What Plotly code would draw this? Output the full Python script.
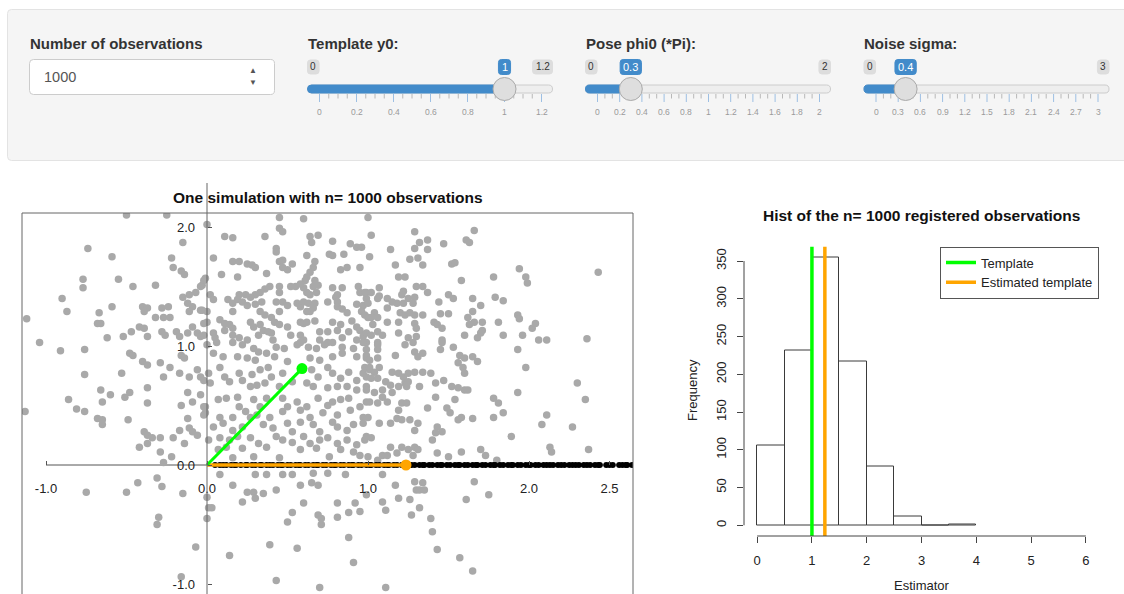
import plotly.graph_objects as go

W, H = 1124, 594
FONT = "Liberation Sans, Arial, Helvetica, sans-serif"

# ---------------------------------------------------------------- data
n_obs = 1000
input_label = "Number of observations"
slider_labels = ["Template y0:", "Pose phi0 (*Pi):", "Noise sigma:"]
slider_min = [0, 0, 0]
slider_max = [1.2, 2, 3]
slider_value = [1, 0.3, 0.4]
slider_value_text = ["1", "0.3", "0.4"]
slider_min_text = ["0", "0", "0"]
slider_max_text = ["1.2", "2", "3"]
slider_grid_1 = ["0", "0.2", "0.4", "0.6", "0.8", "1", "1.2"]
slider_grid_2 = ["0", "0.2", "0.4", "0.6", "0.8", "1", "1.2", "1.4", "1.6", "1.8", "2"]
slider_grid_3 = ["0", "0.3", "0.6", "0.9", "1.2", "1.5", "1.8", "2.1", "2.4", "2.7", "3"]
slider_small_ticks = [3, 2, 2]

template_end_x = 0.59
template_end_y = 0.81
template_y0 = 1.0
estimated_template = 1.236

scatter_xticks = [-1, 0, 1, 2, 2.5]
scatter_xtick_text = ["-1.0", "0.0", "1.0", "2.0", "2.5"]
scatter_yticks = [-1, 0, 1, 2]
scatter_ytick_text = ["-1.0", "0.0", "1.0", "2.0"]

hist_edges = [0, 0.5, 1, 1.5, 2, 2.5, 3, 3.5, 4]
hist_counts = [105, 232, 355, 217, 78, 12, 0, 1]
hist_xticks = [0, 1, 2, 3, 4, 5, 6]
hist_yticks = [0, 50, 100, 150, 200, 250, 300, 350]

registered_x = [0.05, 0.08, 0.10, 0.12, 0.15, 0.17, 0.18, 0.21, 0.24, 0.25, 0.28, 0.30, 0.33, 0.34,
                0.37, 0.39, 0.41, 0.44, 0.46, 0.47, 0.50, 0.52, 0.55, 0.57, 0.58, 0.61, 0.63, 0.66,
                0.68, 0.69, 0.72, 0.74, 0.77, 0.79, 0.80, 0.83, 0.85, 0.88, 0.90, 0.91, 0.94, 0.96,
                0.99, 1.01, 1.02, 1.05, 1.07, 1.10, 1.12, 1.13, 1.16, 1.18, 1.21, 1.23, 1.24, 1.27,
                1.29, 1.32, 1.34, 1.35, 1.38, 1.40, 1.43, 1.45, 1.46, 1.49, 1.51, 1.54, 1.56, 1.57,
                1.60, 1.62, 1.65, 1.67, 1.68, 1.71, 1.73, 1.76, 1.78, 1.79, 1.82, 1.84, 1.87, 1.89,
                1.90, 1.93, 1.95, 1.98, 2.00, 2.01, 2.04, 2.06, 2.09, 2.11, 2.13, 2.15, 2.18, 2.20,
                2.22, 2.25, 2.27, 2.29, 2.31, 2.34, 2.36, 2.38, 2.41, 2.43, 2.44, 2.48, 2.50, 2.52,
                2.56, 2.58, 2.60, 2.61, 2.64]

obs_upper_left = [(0.00,2.02),(0.11,1.92),(0.16,1.91),(0.36,1.92),(0.45,2.08),(0.45,1.99),(0.47,1.96),(0.60,2.07),(0.64,1.92),(0.69,1.93),(0.65,1.87),(0.78,1.88),(0.89,1.86),(0.93,1.83),(0.96,1.83),(0.43,1.82),(0.43,1.79),(0.04,1.74),(0.62,1.76),(0.76,1.77),(0.78,1.76),(0.85,1.77),(0.16,1.71),(0.20,1.71),(0.25,1.69),(0.28,1.68),(0.30,1.66),(0.45,1.71),(0.47,1.72),(0.53,1.69),(0.47,1.66),(0.50,1.64),(0.67,1.71),(0.66,1.66),(0.64,1.62),(0.83,1.64),(0.87,1.66),(0.95,1.66),(0.09,1.60),(0.19,1.58),(0.37,1.61),(0.62,1.58),(0.61,1.55),(-0.01,1.57),(-0.03,1.51),(0.67,1.55),(0.69,1.51),(0.66,1.50),(0.68,1.45),(0.64,1.43),(0.62,1.45),(0.60,1.49),(0.52,1.50),(0.55,1.50),(0.58,1.52),(0.45,1.50),(0.39,1.50),(0.36,1.48),(0.33,1.45),(0.30,1.43),(0.27,1.41),(0.24,1.43),(0.20,1.43),(0.45,1.45),(0.78,1.49),(0.84,1.49),(0.94,1.50),(0.95,1.45),(0.99,1.45),(0.99,1.40),(0.80,1.41),(0.81,1.43),(0.81,1.37),(0.02,1.43),(0.04,1.39),(0.13,1.39),(0.16,1.36),(0.19,1.39),(0.22,1.37),(0.25,1.34),(0.30,1.35),(0.34,1.37),(0.43,1.37),(0.47,1.37),(0.50,1.34),(0.45,1.29),(0.56,1.36),(0.58,1.33),(0.60,1.37),(0.63,1.36),(0.67,1.36),(0.66,1.32),(0.64,1.29),(0.62,1.29),(0.75,1.37),(0.81,1.33),(0.84,1.31),(0.87,1.28),(0.93,1.35),(0.97,1.34),(0.96,1.29),(0.98,1.26),(1.00,1.24),(-0.03,1.30),(0.00,1.29),(0.00,1.20),(0.16,1.29),(0.33,1.29),(0.36,1.26),(0.40,1.24),(0.42,1.20),(0.45,1.18),(0.50,1.16),(0.52,1.09),(0.58,1.20),(0.60,1.19),(0.62,1.20),(0.67,1.21),(0.08,1.22),(0.11,1.19),(0.14,1.18),(0.16,1.15),(0.11,1.13),(0.16,1.09),(0.27,1.20),(0.29,1.16),(0.33,1.18),(0.35,1.13),(0.32,1.09),(0.38,1.12),(0.78,1.20),(0.83,1.18),(0.81,1.13),(0.75,1.12),(0.70,1.12),(0.90,1.21),(0.93,1.16),(0.88,1.12),(0.95,1.13),(0.04,1.11),(0.05,1.07),(0.06,1.03),(0.20,1.07),(0.25,1.05),(0.40,1.11),(0.41,1.05),(0.58,1.09),(0.60,1.05),(0.70,1.05),(0.75,1.03),(0.84,1.07),(0.93,1.05),(0.97,1.08),(0.99,1.03)]

obs_upper_right = [(1.00,2.08),(1.02,1.93),(1.29,1.96),(1.66,1.97),(1.32,1.87),(1.37,1.89),(1.37,1.81),(1.29,1.82),(1.47,1.86),(1.61,1.89),(1.63,1.87),(1.14,1.81),(1.01,1.75),(1.26,1.73),(1.31,1.74),(1.34,1.68),(1.17,1.68),(1.52,1.69),(1.54,1.70),(1.94,1.65),(1.98,1.58),(1.99,1.53),(1.19,1.58),(1.23,1.58),(1.58,1.55),(1.78,1.58),(0.98,1.45),(1.02,1.45),(1.07,1.49),(1.07,1.42),(1.06,1.40),(1.22,1.46),(1.21,1.43),(1.25,1.40),(1.30,1.50),(1.34,1.50),(1.37,1.45),(1.29,1.41),(1.28,1.36),(1.50,1.43),(1.53,1.40),(1.65,1.40),(1.70,1.34),(1.79,1.41),(1.84,1.38),(1.44,1.37),(1.12,1.40),(1.18,1.36),(1.15,1.37),(1.22,1.36),(1.00,1.36),(1.04,1.28),(1.06,1.24),(1.02,1.24),(1.03,1.18),(1.12,1.32),(1.12,1.20),(1.20,1.28),(1.23,1.26),(1.26,1.28),(1.29,1.26),(1.34,1.26),(1.29,1.19),(1.30,1.15),(1.19,1.20),(1.45,1.27),(1.50,1.27),(1.62,1.24),(1.65,1.29),(1.66,1.20),(1.63,1.18),(1.71,1.20),(1.71,1.13),(1.41,1.20),(1.43,1.18),(1.46,1.15),(1.81,1.20),(1.93,1.26),(1.94,1.23),(2.02,1.15),(2.04,1.19),(0.99,1.11),(1.02,1.09),(1.06,1.12),(1.09,1.09),(1.19,1.11),(1.25,1.07),(1.30,1.08),(1.60,1.09),(1.68,1.07),(1.70,1.11),(1.84,1.09),(1.96,1.09),(1.46,1.05),(1.06,1.03)]

obs_lower_left = [(0.00,1.01),(0.16,1.03),(0.22,1.01),(0.29,0.98),(0.32,0.95),(0.37,0.94),(0.43,0.99),(0.48,0.98),(0.56,1.01),(0.58,1.03),(0.63,0.99),(0.68,0.98),(0.73,1.01),(0.78,1.03),(0.84,0.99),(0.91,0.98),(0.97,1.03),(0.99,0.97),(0.04,0.94),(0.10,0.91),(0.19,0.91),(0.25,0.90),(0.30,0.88),(0.42,0.91),(0.50,0.87),(0.64,0.90),(0.70,0.88),(0.78,0.91),(0.84,0.94),(0.93,0.91),(0.99,0.90),(0.01,0.77),(0.08,0.82),(0.11,0.74),(0.20,0.77),(0.22,0.71),(0.28,0.76),(0.33,0.80),(0.38,0.82),(0.40,0.74),(0.47,0.77),(0.53,0.70),(0.65,0.80),(0.69,0.74),(0.75,0.82),(0.78,0.77),(0.83,0.73),(0.88,0.78),(0.93,0.71),(0.97,0.77),(1.01,0.80),(0.02,0.69),(0.14,0.70),(0.27,0.66),(0.31,0.67),(0.36,0.69),(0.45,0.66),(0.62,0.69),(0.66,0.66),(0.75,0.65),(0.81,0.66),(0.87,0.66),(0.93,0.63),(0.99,0.66),(0.07,0.55),(0.12,0.56),(0.19,0.57),(0.20,0.49),(0.24,0.45),(0.29,0.55),(0.33,0.49),(0.37,0.56),(0.47,0.56),(0.50,0.49),(0.56,0.53),(0.58,0.46),(0.62,0.49),(0.69,0.56),(0.75,0.50),(0.78,0.53),(0.83,0.55),(0.88,0.56),(0.95,0.49),(0.99,0.53),(-0.01,0.49),(-0.01,0.44),(0.08,0.40),(0.16,0.40),(0.27,0.40),(0.31,0.42),(0.39,0.40),(0.47,0.45),(0.64,0.40),(0.72,0.44),(0.81,0.42),(0.89,0.46),(0.97,0.40),(0.04,0.32),(0.10,0.35),(0.16,0.29),(0.22,0.32),(0.35,0.34),(0.41,0.31),(0.50,0.35),(0.53,0.28),(0.58,0.36),(0.66,0.34),(0.70,0.28),(0.78,0.36),(0.81,0.32),(0.87,0.29),(0.91,0.34),(0.97,0.35),(0.01,0.21),(0.08,0.23),(0.14,0.21),(0.19,0.24),(0.27,0.23),(0.32,0.18),(0.43,0.24),(0.47,0.21),(0.53,0.19),(0.60,0.24),(0.64,0.18),(0.70,0.21),(0.75,0.23),(0.81,0.18),(0.87,0.21),(0.93,0.17),(0.98,0.21),(0.07,0.13),(0.12,0.15),(0.22,0.14),(0.37,0.15),(0.58,0.13),(0.68,0.14),(0.83,0.13),(0.91,0.11),(0.16,0.06),(0.29,0.07),(0.45,0.06),(0.76,0.07),(0.95,0.08)]

obs_lower_right = [(1.06,1.01),(1.06,0.97),(0.99,0.92),(1.01,0.88),(1.06,0.90),(1.17,0.92),(1.23,1.01),(1.28,1.03),(1.29,0.95),(1.31,0.91),(1.34,0.94),(1.46,1.03),(1.53,0.99),(1.45,0.97),(1.57,0.92),(1.60,0.90),(1.65,0.91),(1.68,0.87),(1.56,0.86),(1.59,0.82),(1.60,0.77),(1.93,0.97),(1.98,0.82),(0.98,0.82),(1.01,0.82),(1.04,0.78),(1.07,0.82),(1.15,0.78),(1.19,0.77),(1.22,0.74),(1.25,0.77),(1.29,0.78),(1.34,0.78),(1.39,0.77),(0.99,0.74),(1.02,0.73),(1.06,0.73),(1.11,0.70),(1.14,0.67),(1.19,0.66),(1.23,0.69),(1.25,0.70),(1.24,0.66),(1.32,0.66),(1.42,0.69),(1.47,0.71),(1.52,0.66),(1.56,0.65),(1.60,0.63),(1.62,0.63),(1.93,0.61),(0.99,0.63),(1.04,0.61),(1.09,0.63),(1.15,0.61),(1.09,0.57),(1.01,0.53),(1.06,0.52),(1.12,0.53),(1.21,0.52),(1.24,0.52),(1.19,0.46),(1.37,0.48),(1.42,0.57),(1.49,0.48),(1.51,0.44),(1.54,0.55),(1.58,0.40),(1.56,0.38),(1.65,0.39),(1.78,0.56),(1.81,0.52),(1.84,0.44),(1.78,0.40),(1.00,0.40),(1.07,0.35),(1.14,0.35),(1.18,0.39),(1.21,0.38),(1.26,0.38),(1.31,0.35),(1.29,0.29),(1.43,0.32),(1.42,0.27),(1.40,0.21),(1.46,0.28),(1.89,0.24),(0.99,0.24),(1.02,0.23),(1.14,0.15),(1.21,0.15),(1.25,0.13),(1.29,0.15),(1.31,0.13),(1.09,0.08),(1.12,0.08),(1.18,0.10),(1.28,0.08),(1.43,0.10),(1.50,0.07),(1.58,0.11),(1.70,0.13),(1.73,0.08),(1.80,0.04),(1.00,0.07),(1.06,0.04)]

obs_left = [(-0.50,2.10),(-0.25,2.10),(-0.15,1.87),(-0.74,1.82),(-0.59,1.75),(-0.22,1.74),(-0.21,1.66),(-0.16,1.63),(-0.14,1.60),(-0.77,1.56),(-0.77,1.49),(-0.55,1.56),(-0.46,1.50),(-0.32,1.51),(-0.02,1.55),(-0.04,1.50),(-0.07,1.45),(-0.11,1.43),(-0.90,1.40),(-0.87,1.29),(-0.67,1.28),(-0.68,1.19),(-0.66,1.19),(-0.59,1.33),(-0.40,1.33),(-0.37,1.32),(-0.39,1.29),(-0.28,1.32),(-0.24,1.33),(-0.32,1.24),(-0.27,1.24),(-0.23,1.24),(-0.15,1.41),(-0.12,1.36),(-0.09,1.33),(-0.11,1.29),(-0.04,1.30),(-1.12,1.23),(-1.04,1.03),(-0.91,0.96),(-0.76,0.97),(-0.62,1.07),(-0.52,1.08),(-0.47,1.12),(-0.42,1.16),(-0.39,1.15),(-0.37,1.08),(-0.28,1.12),(-0.26,1.09),(-0.19,1.12),(-0.17,1.08),(-0.12,1.11),(-0.09,1.16),(-0.06,1.11),(-0.04,1.08),(-0.02,1.19),(-0.02,1.09),(-0.76,0.76),(-0.53,0.77),(-0.48,0.94),(-0.46,0.92),(-0.40,0.87),(-0.37,0.84),(-0.29,0.86),(-0.27,0.74),(-0.23,0.82),(-0.16,0.92),(-0.14,0.90),(-0.17,0.77),(-0.11,0.74),(-0.06,0.80),(-0.04,0.74),(-0.02,0.71),(-1.13,0.45),(-0.86,0.55),(-0.81,0.47),(-0.76,0.45),(-0.66,0.63),(-0.60,0.59),(-0.51,0.57),(-0.48,0.61),(-0.37,0.65),(-0.37,0.52),(-0.65,0.53),(-0.68,0.39),(-0.65,0.38),(-0.65,0.34),(-0.49,0.38),(-0.12,0.61),(-0.09,0.53),(-0.16,0.50),(-0.04,0.59),(-0.02,0.49),(-0.02,0.42),(-0.12,0.39),(-0.11,0.31),(-0.09,0.28),(-0.17,0.29),(-0.06,0.25),(-0.21,0.23),(-0.14,0.18),(-0.39,0.28),(-0.37,0.25),(-0.42,0.15),(-0.37,0.18),(-0.34,0.23),(-0.29,0.23),(-0.22,0.07),(-0.27,0.02),(-0.29,0.11)]

obs_below = [(-0.31,-0.11),(-0.28,-0.18),(-0.43,-0.15),(-0.50,-0.23),(-0.75,-0.23),(-0.15,-0.24),(0.00,-0.27),(0.01,-0.36),(0.03,-0.36),(-0.30,-0.44),(-0.31,-0.50),(0.00,-0.45),(-0.07,-0.69),(-0.16,-0.94),(0.14,-0.76),(0.08,-0.08),(0.16,-0.17),(0.25,-0.23),(0.29,-0.23),(0.30,-0.28),(0.22,-0.31),(0.35,-0.24),(0.43,-0.21),(0.58,-0.17),(0.65,-0.15),(0.69,-0.17),(0.60,-0.32),(0.53,-0.40),(0.50,-0.48),(0.69,-0.42),(0.71,-0.50),(0.39,-0.67),(0.56,-0.70),(0.43,-0.97),(0.70,-1.03),(0.30,-0.08),(0.37,-0.08),(0.47,-0.08),(0.53,-0.08),(0.66,-0.07),(0.75,-0.07),(0.86,-0.08),(1.09,-0.08),(1.29,-0.14),(1.34,-0.15),(1.30,-0.21),(1.32,-0.21),(1.35,-0.21),(1.66,-0.14),(1.75,-0.25),(1.61,-0.29),(1.17,-0.17),(1.19,-0.28),(1.09,-0.31),(0.99,-0.25),(0.92,-0.32),(0.81,-0.32),(0.88,-0.40),(0.81,-0.44),(0.95,-0.39),(1.11,-0.38),(1.26,-0.29),(1.32,-0.36),(1.27,-0.42),(1.39,-0.45),(1.40,-0.56),(1.43,-0.71),(0.71,-0.45),(0.88,-0.61),(0.91,-0.82),(1.57,-0.78),(1.65,-0.89),(1.11,-1.03)]

obs_right = [(2.35,0.55),(2.11,0.42),(2.08,0.34),(2.27,0.32),(2.13,0.15),(2.14,0.11),(2.37,0.13),(2.43,1.62),(2.36,1.06),(2.30,0.69),(2.11,1.05),(2.06,1.05)]

# ---------------------------------------------------------------- helpers
def X(p):
    return p / W


def Y(p):
    return 1 - p / H


def rrect(x0, y0, x1, y1, r):
    pts = [("M", x0 + r, y0), ("L", x1 - r, y0), ("Q", x1, y0, x1, y0 + r), ("L", x1, y1 - r),
           ("Q", x1, y1, x1 - r, y1), ("L", x0 + r, y1), ("Q", x0, y1, x0, y1 - r),
           ("L", x0, y0 + r), ("Q", x0, y0, x0 + r, y0)]
    s = ""
    for p in pts:
        cmd, vals = p[0], p[1:]
        coords = " ".join(f"{X(vals[i]):.6f},{Y(vals[i + 1]):.6f}" for i in range(0, len(vals), 2))
        s += f"{cmd} {coords} "
    return s + "Z"


def text_w(s, size):
    return size * sum(0.556 if c.isdigit() else 0.278 for c in s)


shapes = []
annotations = []


def add_rrect(x0, y0, x1, y1, r, fill, line, lw=1):
    shapes.append(dict(type="path", path=rrect(x0, y0, x1, y1, r), xref="paper", yref="paper",
                       fillcolor=fill, line=dict(color=line, width=lw), layer="below"))


def add_line(x0, y0, x1, y1, color, width=1, layer="above"):
    shapes.append(dict(type="line", xref="paper", yref="paper", x0=X(x0), y0=Y(y0), x1=X(x1),
                       y1=Y(y1), line=dict(color=color, width=width), layer=layer))


def add_text(x, y, text, size, color="#333333", anchor="center", bold=False, angle=0):
    annotations.append(dict(x=X(x), y=Y(y), xref="paper", yref="paper", text=text,
                            showarrow=False, xanchor=anchor, yanchor="middle", textangle=angle,
                            font=dict(family=FONT, size=size, color=color,
                                      weight="bold" if bold else "normal")))


# ---------------------------------------------------------------- input panel
add_rrect(7.5, 9.5, 1140, 160.5, 4, "#f5f5f5", "#e3e3e3")
add_text(28, 43, input_label, 15, bold=True, anchor="left")
add_rrect(29.5, 59.5, 274.5, 94.5, 4, "#ffffff", "#cccccc")
add_text(42, 77, str(n_obs), 14.5, color="#555555", anchor="left")
add_text(253, 70, "▲", 8, color="#555555")
add_text(253, 83, "▼", 8, color="#555555")

track_left = [307.5, 585.5, 864]
TRACK_W, GRID_PAD, GRID_RANGE = 245, 12, 222
grids = [slider_grid_1, slider_grid_2, slider_grid_3]
BLUE = "#428bca"
for k in range(3):
    L = track_left[k]
    add_text(L - 2, 43, slider_labels[k], 15, bold=True, anchor="left")
    frac = (slider_value[k] - slider_min[k]) / (slider_max[k] - slider_min[k])
    hx = L + GRID_PAD + frac * GRID_RANGE
    # track and fill
    add_rrect(L, 85, L + TRACK_W, 93, 4, "#eeeeee", "#cccccc")
    add_rrect(L, 85, hx, 93, 4, BLUE, BLUE)
    # grid
    labels = grids[k]
    nb = len(labels) - 1
    step = GRID_RANGE / nb
    for i, lab in enumerate(labels):
        gx = L + GRID_PAD + i * step
        add_line(gx, 94, gx, 102, "#9dbfe3", 1)
        add_text(gx, 112, lab, 8.5, color="#9a9a9a")
        if i < nb:
            ns = slider_small_ticks[k]
            for s in range(1, ns + 1):
                sx = gx + s * step / (ns + 1)
                add_line(sx, 94, sx, 98.5, "#b8b8b8", 1)
    # handle
    shapes.append(dict(type="circle", xref="paper", yref="paper", x0=X(hx - 11.5), x1=X(hx + 11.5),
                       y0=Y(89 + 11.5), y1=Y(89 - 11.5), fillcolor="#dedede",
                       line=dict(color="#aaaaaa", width=1), layer="above"))
    # min / max badges
    wmin = text_w(slider_min_text[k], 10) + 6
    add_rrect(L, 60, L + wmin, 74, 3, "#dddddd", "#dddddd")
    add_text(L + wmin / 2, 67, slider_min_text[k], 10, color="#333333")
    wmax = text_w(slider_max_text[k], 10) + 6
    add_rrect(L + TRACK_W - wmax, 60, L + TRACK_W, 74, 3, "#dddddd", "#dddddd")
    add_text(L + TRACK_W - wmax / 2, 67, slider_max_text[k], 10, color="#333333")
    # value badge
    wv = text_w(slider_value_text[k], 11) + 6
    add_rrect(hx - wv / 2, 59.5, hx + wv / 2, 74.5, 3, BLUE, BLUE)
    add_text(hx, 67, slider_value_text[k], 11, color="#ffffff")

# ---------------------------------------------------------------- scatter panel
SC_L, SC_R, SC_T = 22, 633, 213
ORIG_X, ORIG_Y = 207, 465
UX, UY = 161, 119
sx_range = [(SC_L - ORIG_X) / UX, (SC_R - ORIG_X) / UX]
sy_range = [(ORIG_Y - H) / UY, (ORIG_Y - SC_T) / UY]

obs_all = obs_upper_left + obs_upper_right + obs_lower_left + obs_lower_right + obs_left + obs_below + obs_right
fig = go.Figure()
fig.add_trace(go.Scatter(x=[p[0] for p in obs_all], y=[p[1] for p in obs_all], mode="markers",
                         marker=dict(color="#a9a9a9", size=7.5, line=dict(width=0)),
                         xaxis="x", yaxis="y", showlegend=False, hoverinfo="skip"))
fig.add_trace(go.Scatter(x=registered_x, y=[0] * len(registered_x), mode="markers",
                         marker=dict(color="#000000", size=6, line=dict(width=0)),
                         xaxis="x", yaxis="y", showlegend=False, hoverinfo="skip"))
fig.add_trace(go.Scatter(x=[0, estimated_template], y=[0, 0], mode="lines",
                         line=dict(color="#ffa500", width=3.5), xaxis="x", yaxis="y",
                         showlegend=False, hoverinfo="skip"))
fig.add_trace(go.Scatter(x=[estimated_template], y=[0], mode="markers",
                         marker=dict(color="#ffa500", size=11), xaxis="x", yaxis="y",
                         showlegend=False, hoverinfo="skip"))
fig.add_trace(go.Scatter(x=[0, template_end_x], y=[0, template_end_y], mode="lines",
                         line=dict(color="#00ff00", width=3), xaxis="x", yaxis="y",
                         showlegend=False, hoverinfo="skip"))
fig.add_trace(go.Scatter(x=[template_end_x], y=[template_end_y], mode="markers",
                         marker=dict(color="#00ff00", size=11), xaxis="x", yaxis="y",
                         showlegend=False, hoverinfo="skip"))

# plot box (left, top, right)
for (a, b, c, d) in [(0, 0, 0, 1), (0, 1, 1, 1), (1, 0, 1, 1)]:
    shapes.append(dict(type="line", xref="x domain", yref="y domain", x0=a, y0=b, x1=c, y1=d,
                       line=dict(color="#666666", width=1), layer="above"))
# axes through origin
shapes.append(dict(type="line", xref="x", yref="y", x0=scatter_xticks[0], y0=0, x1=sx_range[1], y1=0,
                   line=dict(color="#555555", width=1), layer="below"))
add_line(ORIG_X, 183, ORIG_X, H, "#666666", 1)
add_text((SC_L + SC_R) / 2, 198, "One simulation with n= %d observations" % n_obs, 15.5, color="#111111", bold=True)

# ---------------------------------------------------------------- histogram panel
HL, HR, HT, HB = 744, 1099, 246.5, 536
hx_range = [-0.24, 6.24]
hy_range = [-0.04 * max(hist_counts), 1.04 * max(hist_counts)]
centers = [(hist_edges[i] + hist_edges[i + 1]) / 2 for i in range(len(hist_counts))]
widths = [hist_edges[i + 1] - hist_edges[i] for i in range(len(hist_counts))]
fig.add_trace(go.Bar(x=centers, y=hist_counts, width=widths, xaxis="x2", yaxis="y2",
                     marker=dict(color="rgba(255,255,255,0)", line=dict(color="#3a3a3a", width=1)),
                     showlegend=False, hoverinfo="skip"))
fig.add_trace(go.Scatter(x=[template_y0, template_y0], y=hy_range, mode="lines", name="Template",
                         line=dict(color="#00ff00", width=3.5), xaxis="x2", yaxis="y2", hoverinfo="skip"))
fig.add_trace(go.Scatter(x=[estimated_template, estimated_template], y=hy_range, mode="lines",
                         name="Estimated template", line=dict(color="#ffa500", width=3.5),
                         xaxis="x2", yaxis="y2", hoverinfo="skip"))
shapes.append(dict(type="line", xref="x2", yref="y2 domain", x0=hist_xticks[0], x1=hist_xticks[-1], y0=0, y1=0,
                   line=dict(color="#444444", width=1), layer="above"))
shapes.append(dict(type="line", xref="x2 domain", yref="y2", x0=0, x1=0, y0=hist_yticks[0], y1=hist_yticks[-1],
                   line=dict(color="#444444", width=1), layer="above"))
add_text((HL + HR) / 2, 215, "Hist of the n= %d registered observations" % n_obs, 15.5, color="#111111", bold=True)
add_text(692, 390, "Frequency", 13, color="#222222", angle=-90)
add_text((HL + HR) / 2, 585, "Estimator", 13, color="#222222")

axis_font = dict(family=FONT, size=13, color="#222222")
fig.update_layout(
    width=W, height=H, margin=dict(l=0, r=0, t=0, b=0),
    paper_bgcolor="#ffffff", plot_bgcolor="#ffffff",
    font=dict(family=FONT, size=13, color="#222222"),
    barmode="overlay", bargap=0,
    xaxis=dict(domain=[X(SC_L), X(SC_R)], range=sx_range, anchor="free", position=Y(ORIG_Y),
               tickvals=scatter_xticks, ticktext=scatter_xtick_text, ticks="inside", ticklen=4,
               tickcolor="#555555", showgrid=False, zeroline=False, showline=False,
               tickfont=axis_font, ticklabelstandoff=14),
    yaxis=dict(domain=[0, Y(SC_T)], range=sy_range, anchor="free", position=X(ORIG_X),
               tickvals=scatter_yticks, ticktext=scatter_ytick_text, ticks="inside", ticklen=4,
               tickcolor="#555555", showgrid=False, zeroline=False, showline=False,
               tickfont=axis_font, ticklabelstandoff=12),
    xaxis2=dict(domain=[X(HL), X(HR)], range=hx_range, anchor="y2", tickvals=hist_xticks,
                ticks="outside", ticklen=6, tickcolor="#444444", showgrid=False, zeroline=False,
                showline=False, tickfont=axis_font, ticklabelstandoff=6),
    yaxis2=dict(domain=[Y(HB), Y(HT)], range=hy_range, anchor="x2", tickvals=hist_yticks,
                ticks="outside", ticklen=6, tickcolor="#444444", showgrid=False, zeroline=False,
                showline=False, tickfont=axis_font, tickangle=-90, ticklabelstandoff=6),
    legend=dict(x=X(HR), y=Y(HT), xanchor="right", yanchor="top", bgcolor="#ffffff",
                bordercolor="#555555", borderwidth=1, font=dict(family=FONT, size=13, color="#222222"),
                traceorder="normal", itemwidth=30),
    shapes=shapes, annotations=annotations, hovermode=False,
)

fig.write_html("out.html", config={"displayModeBar": False},
               post_script="document.body.style.margin='0px';document.documentElement.style.overflow='hidden';")
